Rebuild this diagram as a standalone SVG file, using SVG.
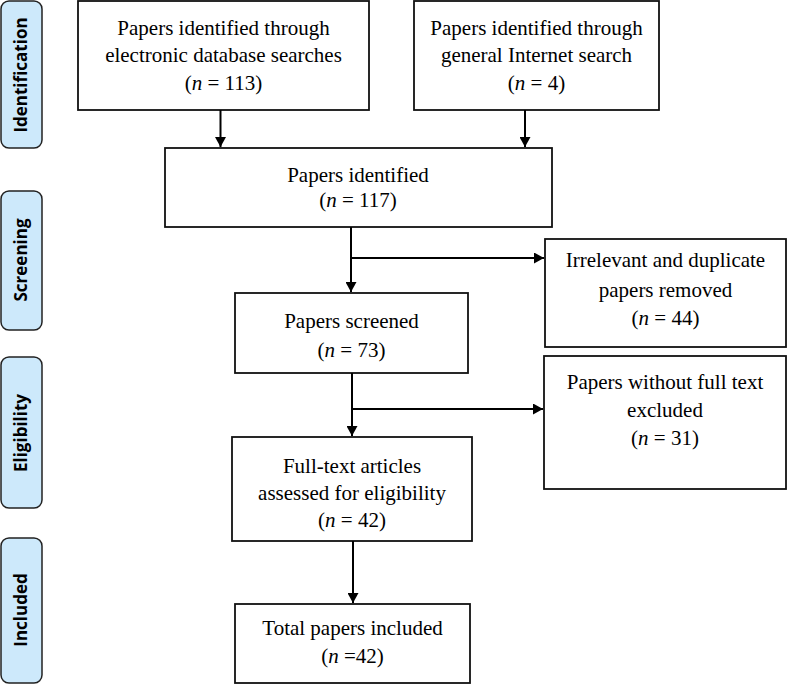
<svg xmlns="http://www.w3.org/2000/svg" width="787" height="684" viewBox="0 0 787 684">
<style>
.box{fill:#fff;stroke:#111;stroke-width:1.8}
.lab{fill:#cde9fb;stroke:#222;stroke-width:1.5}
.t{font-family:'Liberation Serif','DejaVu Serif',serif;font-size:21px;fill:#000;text-anchor:middle}
.s{font-family:'Open Sans','DejaVu Sans',sans-serif;font-size:17px;font-weight:bold;fill:#000;text-anchor:middle}
.c{stroke:#000;stroke-width:2;fill:none}
</style>
<defs>
<marker id="ah" viewBox="0 0 10 11" refX="10" refY="5.5" markerWidth="10" markerHeight="11" markerUnits="userSpaceOnUse" orient="auto">
<path d="M0,0 L10,5.5 L0,11 z" fill="#000"/>
</marker>
</defs>
<rect width="787" height="684" fill="#fff"/>
<g id="stage-identification"><rect class="lab" x="1" y="1" width="41" height="147" rx="8"/><text class="s" transform="translate(27,75) rotate(-90)">Identification</text></g>
<g id="stage-screening"><rect class="lab" x="1" y="191" width="41" height="139" rx="8"/><text class="s" transform="translate(27,260) rotate(-90)">Screening</text></g>
<g id="stage-eligibility"><rect class="lab" x="1" y="357" width="41" height="151" rx="8"/><text class="s" transform="translate(27,433) rotate(-90)">Eligibility</text></g>
<g id="stage-included"><rect class="lab" x="1" y="538" width="41" height="145" rx="8"/><text class="s" transform="translate(27,610) rotate(-90)">Included</text></g>

<g id="n-db"><rect class="box" x="78" y="1" width="291" height="109"/>
<text class="t" x="223.5" y="35">Papers identified through</text>
<text class="t" x="223.5" y="62">electronic database searches</text>
<text class="t" x="223.5" y="90">(<tspan font-style="italic">n</tspan> = 113)</text></g>
<g id="n-web"><rect class="box" x="414" y="1" width="245" height="109"/>
<text class="t" x="536.5" y="35">Papers identified through</text>
<text class="t" x="536.5" y="62">general Internet search</text>
<text class="t" x="536.5" y="90">(<tspan font-style="italic">n</tspan> = 4)</text></g>
<g id="n-ident"><rect class="box" x="165" y="148" width="387" height="79"/>
<text class="t" x="358" y="182">Papers identified</text>
<text class="t" x="358" y="207">(<tspan font-style="italic">n</tspan> = 117)</text></g>
<g id="n-irr"><rect class="box" x="545" y="239" width="241" height="108"/>
<text class="t" x="665.5" y="267">Irrelevant and duplicate</text>
<text class="t" x="665.5" y="297">papers removed</text>
<text class="t" x="665.5" y="325">(<tspan font-style="italic">n</tspan> = 44)</text></g>
<g id="n-screened"><rect class="box" x="235" y="293" width="233" height="80"/>
<text class="t" x="351.5" y="328">Papers screened</text>
<text class="t" x="351.5" y="357">(<tspan font-style="italic">n</tspan> = 73)</text></g>
<g id="n-nofull"><rect class="box" x="544" y="356" width="242" height="133"/>
<text class="t" x="665" y="389">Papers without full text</text>
<text class="t" x="665" y="417">excluded</text>
<text class="t" x="665" y="445">(<tspan font-style="italic">n</tspan> = 31)</text></g>
<g id="n-full"><rect class="box" x="232" y="437" width="240" height="104"/>
<text class="t" x="352" y="473">Full-text articles</text>
<text class="t" x="352" y="500">assessed for eligibility</text>
<text class="t" x="352" y="527">(<tspan font-style="italic">n</tspan> = 42)</text></g>
<g id="n-total"><rect class="box" x="235" y="604" width="235" height="79"/>
<text class="t" x="352.5" y="635">Total papers included</text>
<text class="t" x="352.5" y="663">(<tspan font-style="italic">n</tspan> =42)</text></g>

<g id="connectors">
<line class="c" x1="220.5" y1="110" x2="220.5" y2="147" marker-end="url(#ah)"/>
<line class="c" x1="525" y1="110" x2="525" y2="147" marker-end="url(#ah)"/>
<line class="c" x1="351" y1="227" x2="351" y2="292" marker-end="url(#ah)"/>
<line class="c" x1="351" y1="258" x2="544" y2="258" marker-end="url(#ah)"/>
<line class="c" x1="352" y1="373" x2="352" y2="436" marker-end="url(#ah)"/>
<line class="c" x1="352" y1="409" x2="543" y2="409" marker-end="url(#ah)"/>
<line class="c" x1="353" y1="541" x2="353" y2="603" marker-end="url(#ah)"/>
</g>
</svg>
